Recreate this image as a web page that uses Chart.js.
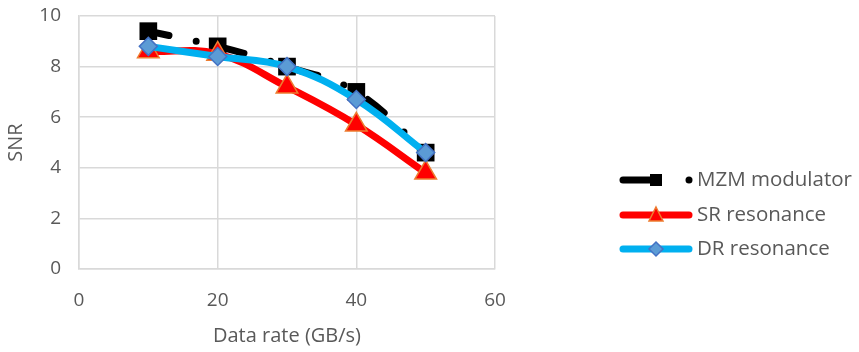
<!DOCTYPE html>
<html>
<head>
<meta charset="utf-8">
<script src="https://cdn.jsdelivr.net/npm/chart.js@4/dist/chart.umd.min.js"></script>
<style>
  html, body { margin: 0; padding: 0; background: #fff; }
  #wrap { width: 859px; height: 352px; }
</style>
</head>
<body>
<div id="wrap"><canvas id="myChart" width="859" height="352"></canvas></div>
<script>
  const dataRates = [10, 20, 30, 40, 50];
  const mzmSnr = [9.4, 8.8, 8.0, 7.0, 4.6];
  const srSnr = [8.6, 8.5, 7.2, 5.7, 3.8];
  const drSnr = [8.8, 8.4, 8.0, 6.7, 4.6];
  const seriesNames = ['MZM modulator', 'SR resonance', 'DR resonance'];

  const FONT = "'Open Sans', 'Liberation Sans', sans-serif";
  const TXT = '#595959';

  const toXY = (ys) => dataRates.map((x, i) => ({ x: x, y: ys[i] }));

  // legend drawn by hand: line with marker in the middle
  const sideLegend = {
    id: 'sideLegend',
    afterDraw(chart) {
      const c = chart.ctx;
      const x0 = 620, x1 = 692, tx = 697;
      const rows = [180, 215, 249];
      c.save();
      c.lineCap = 'round';
      // MZM
      let y = rows[0];
      c.strokeStyle = '#000';
      c.lineWidth = 7;
      c.beginPath(); c.moveTo(x0 + 3, y); c.lineTo(x0 + 30, y); c.stroke();
      c.fillStyle = '#000';
      c.fillRect(650, y - 6, 12, 12);
      c.beginPath(); c.arc(689, y, 3.5, 0, Math.PI * 2); c.fill();
      // SR
      y = rows[1];
      c.strokeStyle = '#ff0000';
      c.lineWidth = 7;
      c.beginPath(); c.moveTo(x0 + 3, y); c.lineTo(x1 - 3, y); c.stroke();
      c.fillStyle = '#ff0000';
      c.strokeStyle = '#ed7d31';
      c.lineWidth = 1.5;
      c.beginPath(); c.moveTo(656, y - 8); c.lineTo(663, y + 6); c.lineTo(649, y + 6); c.closePath(); c.fill(); c.stroke();
      // DR
      y = rows[2];
      c.strokeStyle = '#00b0f0';
      c.lineWidth = 7;
      c.beginPath(); c.moveTo(x0 + 3, y); c.lineTo(x1 - 3, y); c.stroke();
      c.fillStyle = '#5b9bd5';
      c.strokeStyle = '#4472c4';
      c.lineWidth = 1.5;
      c.beginPath(); c.moveTo(656, y - 7); c.lineTo(663, y); c.lineTo(656, y + 7); c.lineTo(649, y); c.closePath(); c.fill(); c.stroke();
      // texts
      c.fillStyle = TXT;
      c.font = '20.5px ' + FONT;
      c.textBaseline = 'middle';
      c.textAlign = 'left';
      seriesNames.forEach((n, i) => c.fillText(n, tx, rows[i]));
      c.restore();
    }
  };

  const data = {
    datasets: [{
      label: seriesNames[0],
      data: toXY(mzmSnr),
      borderColor: '#000',
      backgroundColor: '#000',
      borderWidth: 7,
      borderDash: [21, 28, 0, 28],
      borderCapStyle: 'round',
      tension: 0.4,
      pointStyle: 'rect',
      pointRadius: 12.5,
      pointBorderWidth: 0,
      order: 3
    }, {
      label: seriesNames[1],
      data: toXY(srSnr),
      borderColor: '#ff0000',
      backgroundColor: '#ff0000',
      pointBorderColor: '#ed7d31',
      borderWidth: 7,
      borderCapStyle: 'round',
      tension: 0.4,
      pointStyle: 'triangle',
      pointRadius: 12.5,
      pointBorderWidth: 1.5,
      order: 2
    }, {
      label: seriesNames[2],
      data: toXY(drSnr),
      borderColor: '#00b0f0',
      backgroundColor: '#5b9bd5',
      pointBorderColor: '#4472c4',
      borderWidth: 7,
      borderCapStyle: 'round',
      tension: 0.4,
      pointStyle: 'rectRot',
      pointRadius: 9,
      pointBorderWidth: 1.5,
      order: 1
    }]
  };

  const config = {
    type: 'line',
    data: data,
    plugins: [sideLegend],
    options: {
      responsive: false,
      animation: false,
      layout: { padding: { top: 16, right: 364, left: 0, bottom: 0 } },
      plugins: { legend: { display: false }, tooltip: { enabled: false } },
      scales: {
        x: {
          type: 'linear',
          min: 0, max: 60,
          ticks: { stepSize: 20, color: TXT, font: { family: FONT, size: 19 }, padding: 20 },
          grid: { color: '#d9d9d9', lineWidth: 1.5, drawTicks: false },
          border: { color: '#d9d9d9', width: 1.5 },
          title: { display: true, text: 'Data rate (GB/s)', color: TXT, font: { family: FONT, size: 20 }, padding: { top: 12 } },
          afterFit(s) { s.height = 83; s.paddingLeft = 0; s.paddingRight = 0; }
        },
        y: {
          min: 0, max: 10,
          ticks: { stepSize: 2, color: TXT, font: { family: FONT, size: 19 }, padding: 18 },
          grid: { color: '#d9d9d9', lineWidth: 1.5, drawTicks: false },
          border: { color: '#d9d9d9', width: 1.5 },
          title: { display: true, text: 'SNR', color: TXT, font: { family: FONT, size: 20 }, padding: { bottom: 4 } },
          afterFit(s) { s.width = 79; s.paddingTop = 0; s.paddingBottom = 0; }
        }
      }
    }
  };

  const myChart = new Chart(document.getElementById('myChart'), config);
</script>
</body>
</html>
